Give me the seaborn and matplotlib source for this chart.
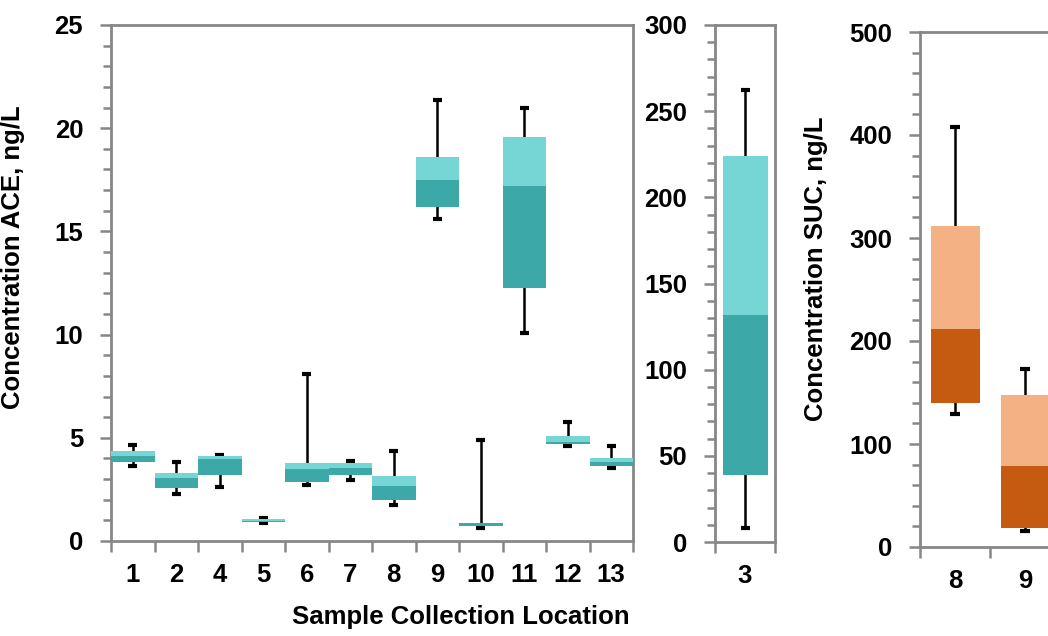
import numpy as np
import pandas as pd
import matplotlib
matplotlib.use("Agg")
import matplotlib.pyplot as plt
import seaborn as sns
from matplotlib.ticker import MultipleLocator

# ---- data ----
ace_locations = ["1", "2", "4", "5", "6", "7", "8", "9", "10", "11", "12", "13"]
ace_min = [3.65, 2.30, 2.60, 0.85, 2.70, 2.95, 1.75, 15.60, 0.62, 10.10, 4.60, 3.55]
ace_q1 = [3.85, 2.57, 3.20, 0.93, 2.88, 3.20, 1.97, 16.20, 0.72, 12.27, 4.68, 3.65]
ace_med = [4.10, 3.03, 3.95, 0.95, 3.50, 3.52, 2.65, 17.48, 0.85, 17.20, 4.78, 3.82]
ace_q3 = [4.37, 3.29, 4.13, 1.05, 3.78, 3.78, 3.17, 18.60, 0.88, 19.57, 5.10, 4.02]
ace_max = [4.63, 3.82, 4.17, 1.10, 8.11, 3.87, 4.35, 21.35, 4.90, 20.97, 5.77, 4.60]

ace3_locations = ["3"]
ace3_min = [8]
ace3_q1 = [39]
ace3_med = [132]
ace3_q3 = [224]
ace3_max = [262]

suc_locations = ["8", "9"]
suc_min = [129, 15.5]
suc_q1 = [140, 18.5]
suc_med = [212, 79]
suc_q3 = [312, 148]
suc_max = [408, 173]

TEAL_DARK = "#3DA8A8"
TEAL_LIGHT = "#76D5D5"
ORANGE_DARK = "#C55A11"
ORANGE_LIGHT = "#F4B183"
GRAY = "#878787"

sns.set_style("ticks")
plt.rcParams["font.family"] = ["Liberation Sans", "DejaVu Sans"]
plt.rcParams["font.weight"] = "bold"
plt.rcParams["axes.labelweight"] = "bold"
plt.rcParams["text.color"] = "black"
plt.rcParams["axes.labelcolor"] = "black"
plt.rcParams["xtick.labelcolor"] = "black"
plt.rcParams["ytick.labelcolor"] = "black"
FS = 18.5

W, H = 1048, 636
fig = plt.figure(figsize=(W / 100, H / 100), dpi=100)


def px_axes(x0, y0, x1, y1):
    return fig.add_axes([x0 / W, 1 - y1 / H, (x1 - x0) / W, (y1 - y0) / H])


def draw_panel(ax, cats, mn, q1, med, q3, mx, dark, light, width, ylim,
               major, minor, cap):
    n = len(cats)
    df = pd.DataFrame({
        "loc": cats,
        "lower": np.subtract(med, q1),
        "upper": np.subtract(q3, med),
    })
    x = np.arange(n)
    ax.vlines(x, mn, mx, color="black", lw=1.8, zorder=1)
    ax.hlines(mn, x - cap, x + cap, color="black", lw=3, zorder=1)
    ax.hlines(mx, x - cap, x + cap, color="black", lw=3, zorder=1)
    sns.barplot(data=df, x="loc", y="lower", order=cats, bottom=q1,
                color=dark, saturation=1, width=width, errorbar=None,
                linewidth=0, ax=ax, zorder=3)
    sns.barplot(data=df, x="loc", y="upper", order=cats, bottom=med,
                color=light, saturation=1, width=width, errorbar=None,
                linewidth=0, ax=ax, zorder=3)
    ax.set_ylim(*ylim)
    ax.set_xlim(-0.5, n - 0.5)
    ax.yaxis.set_major_locator(MultipleLocator(major))
    ax.yaxis.set_minor_locator(MultipleLocator(minor))
    ax.tick_params(axis="y", which="major", length=8, width=1.8, color=GRAY,
                   pad=12, labelsize=FS, direction="out")
    ax.tick_params(axis="y", which="minor", length=6, width=1.8, color=GRAY,
                   direction="out", left=True)
    ax.set_xticks(np.arange(n + 1) - 0.5)
    ax.set_xticklabels([])
    ax.set_xticks(x, labels=cats, minor=True)
    ax.tick_params(axis="x", which="major", length=8, width=1.8, color=GRAY,
                   direction="out")
    ax.tick_params(axis="x", which="minor", length=0, pad=16, labelsize=FS)
    for s in ax.spines.values():
        s.set_color(GRAY)
        s.set_linewidth(2)
        s.set_visible(True)
    ax.set_xlabel("")
    ax.set_ylabel("")


ax1 = px_axes(111, 25, 633, 541)
draw_panel(ax1, ace_locations, ace_min, ace_q1, ace_med, ace_q3, ace_max,
           TEAL_DARK, TEAL_LIGHT, 1.0, (0, 25), 5, 1, 0.1)
ax1.set_ylabel("Concentration ACE, ng/L", fontsize=FS)
ax1.yaxis.set_label_coords(-0.165, 0.55)

ax2 = px_axes(715, 25, 775, 542)
draw_panel(ax2, ace3_locations, ace3_min, ace3_q1, ace3_med, ace3_q3, ace3_max,
           TEAL_DARK, TEAL_LIGHT, 0.75, (0, 300), 50, 10, 0.075)

ax3 = px_axes(920, 32, 1060, 547)
draw_panel(ax3, suc_locations, suc_min, suc_q1, suc_med, suc_q3, suc_max,
           ORANGE_DARK, ORANGE_LIGHT, 0.7, (0, 500), 100, 20, 0.065)
ax3.set_ylabel("Concentration SUC, ng/L", fontsize=FS)
ax3.yaxis.set_label_coords(-0.657, 0.54)

fig.text(461 / W, 1 - 617 / H, "Sample Collection Location", fontsize=FS,
         fontweight="bold", ha="center", va="center")

fig.savefig("out.png", dpi=100)
